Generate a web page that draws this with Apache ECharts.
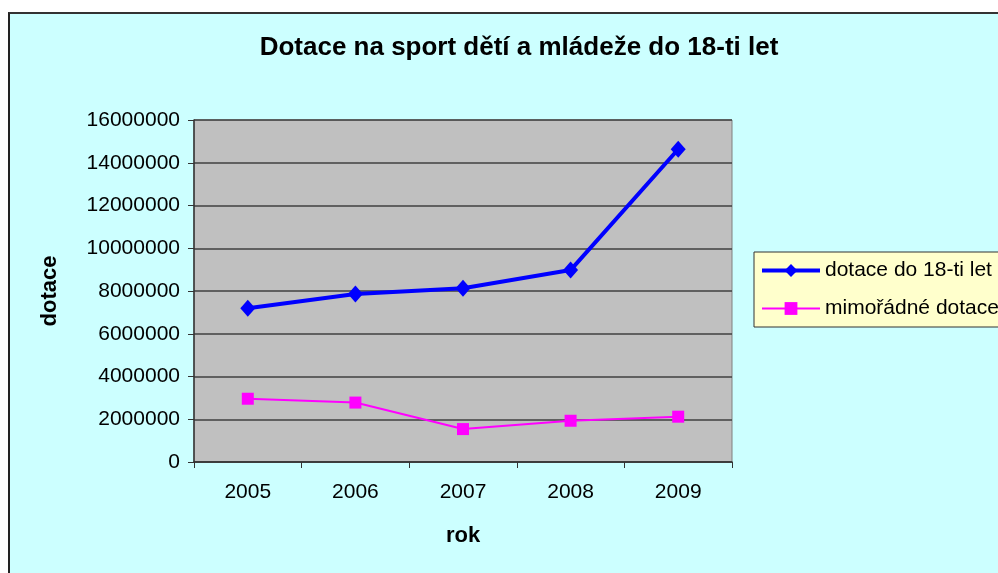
<!DOCTYPE html>
<html>
<head>
<meta charset="utf-8">
<script src="https://cdn.jsdelivr.net/npm/echarts@6/dist/echarts.min.js"></script>
<style>
    html, body { margin: 0; padding: 0; background: #ffffff; overflow: hidden; }
    #frame { position: absolute; left: 8px; top: 12px; width: 1100px; height: 700px;
             background: #ccffff; border-left: 2px solid #222; border-top: 2px solid #333; }
    #chart { position: absolute; left: 0; top: 0; width: 998px; height: 573px; }
</style>
</head>
<body>
<div id="frame"></div>
<div id="chart"></div>
<script>
// roky
var years = ['2005', '2006', '2007', '2008', '2009'];
// dotace do 18-ti let
var dotace18 = [7190000, 7860000, 8130000, 8980000, 14630000];
// mimoradne dotace
var mimoradne = [2960000, 2780000, 1540000, 1930000, 2120000];

var font = '"Liberation Sans", Arial, sans-serif';

var myChart = echarts.init(document.getElementById('chart'));
var option = {
    animation: false,
    title: {
        text: 'Dotace na sport dětí a mládeže do 18-ti let',
        left: 514,
        textAlign: 'center',
        top: 30,
        textStyle: { fontFamily: font, fontSize: 26, fontWeight: 'bold', color: '#000' }
    },
    legend: {
        orient: 'vertical',
        left: 754,
        top: 252,
        padding: [8, 40, 8, 6],
        itemGap: 17,
        itemWidth: 58,
        itemHeight: 16,
        backgroundColor: '#ffffcc',
        borderColor: '#333',
        borderWidth: 1,
        textStyle: { fontFamily: font, fontSize: 21, color: '#000' },
        data: [{
            name: 'dotace do 18-ti let',
            lineStyle: { width: 4 }
        }, {
            name: 'mimořádné dotace',
            lineStyle: { width: 2 }
        }]
    },
    grid: {
        left: 194,
        top: 120,
        width: 538,
        height: 342,
        show: true,
        backgroundColor: '#c0c0c0',
        borderColor: '#808080',
        borderWidth: 1
    },
    xAxis: {
        type: 'category',
        data: years,
        boundaryGap: true,
        name: 'rok',
        nameLocation: 'middle',
        nameGap: 63,
        nameTextStyle: { fontFamily: font, fontSize: 22, fontWeight: 'bold', color: '#000' },
        axisLine: { lineStyle: { color: '#333', width: 1.5 } },
        axisTick: { show: true, length: 6, lineStyle: { color: '#333' } },
        axisLabel: { fontFamily: font, fontSize: 21, color: '#000', margin: 20 },
        splitLine: { show: false }
    },
    yAxis: {
        type: 'value',
        min: 0,
        max: 16000000,
        interval: 2000000,
        name: 'dotace',
        nameLocation: 'middle',
        nameGap: 133,
        nameRotate: 90,
        nameTextStyle: { fontFamily: font, fontSize: 22, fontWeight: 'bold', color: '#000' },
        axisLine: { show: true, lineStyle: { color: '#333', width: 1.5 } },
        axisTick: { show: true, length: 6, lineStyle: { color: '#333' } },
        axisLabel: {
            fontFamily: font, fontSize: 21, color: '#000', margin: 14,
            formatter: function(v) { return String(v); }
        },
        splitLine: { lineStyle: { color: '#404040', width: 1.5 } }
    },
    series: [{
        name: 'dotace do 18-ti let',
        type: 'line',
        data: dotace18,
        symbol: 'diamond',
        symbolSize: [15, 17],
        itemStyle: { color: '#0000ff' },
        lineStyle: { color: '#0000ff', width: 4 }
    }, {
        name: 'mimořádné dotace',
        type: 'line',
        data: mimoradne,
        symbol: 'rect',
        symbolSize: 12,
        itemStyle: { color: '#ff00ff' },
        lineStyle: { color: '#ff00ff', width: 2 }
    }]
};
myChart.setOption(option);
</script>
</body>
</html>
